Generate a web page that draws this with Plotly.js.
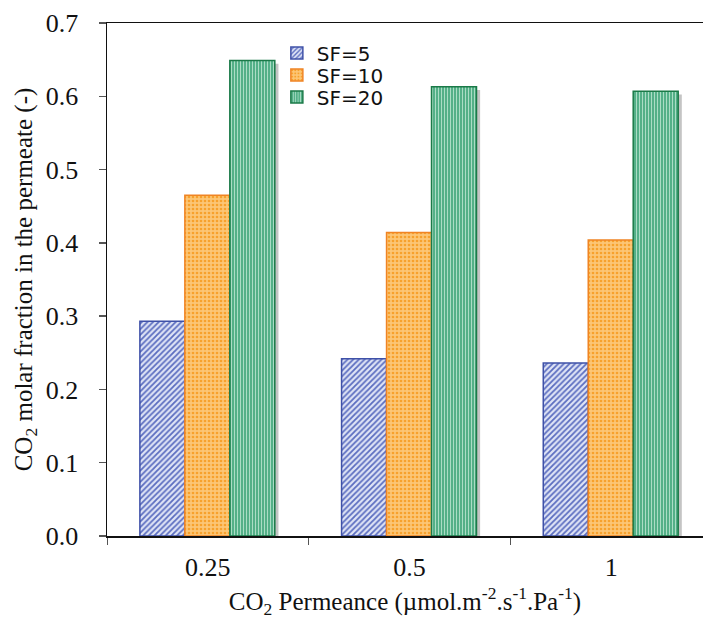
<!DOCTYPE html>
<html>
<head>
<meta charset="utf-8">
<script src="https://cdn.plot.ly/plotly-3.0.1.min.js"></script>
<style>html,body{margin:0;padding:0;background:#fff;}#chart{width:703px;height:619px;}</style>
</head>
<body>
<div id="chart"></div>
<script>
const categories = ['0.25', '0.5', '1'];
const seriesNames = ['SF=5', 'SF=10', 'SF=20'];
const sf5 = [0.293, 0.242, 0.236];
const sf10 = [0.465, 0.414, 0.404];
const sf20 = [0.649, 0.613, 0.607];
const yTicks = [0, 0.1, 0.2, 0.3, 0.4, 0.5, 0.6, 0.7];

const values = [sf5, sf10, sf20];
const barW = 0.223;
const offsets = [-0.337, -0.114, 0.109];
const legendIds = ['legend', 'legend2', 'legend3'];
const styles = [
  {line: '#3f51a8', pat: {shape: '/', bgcolor: '#dfe4f6', fgcolor: '#5b6dc0', size: 4, solidity: 0.45}},
  {line: '#f08424', pat: {shape: '.', bgcolor: '#fcc676', fgcolor: '#f7a12c', size: 4, solidity: 0.35}},
  {line: '#1b7a48', pat: {shape: '|', bgcolor: '#54b088', fgcolor: '#b4e2cc', size: 3, solidity: 0.3}}
];

const traces = [];
values.forEach((v, i) => {
  traces.push({
    type: 'bar', x: categories, y: v.map(d => d - 0.0045),
    width: barW, offset: offsets[i] + 0.018,
    marker: {color: '#c4c4c4', line: {width: 0}},
    showlegend: false, hoverinfo: 'skip'
  });
});
values.forEach((v, i) => {
  traces.push({
    type: 'bar', name: seriesNames[i], x: categories, y: v,
    width: barW, offset: offsets[i], legend: legendIds[i],
    marker: {color: styles[i].pat.bgcolor, line: {color: styles[i].line, width: 1.5}, pattern: styles[i].pat}
  });
});

const legendFont = {family: 'DejaVu Sans, Verdana, sans-serif', size: 20, color: '#111'};
const legendY = [0.9415, 0.8986, 0.8558];
function mkLegend(y) {
  return {x: 0.285, y: y, xanchor: 'left', yanchor: 'middle',
    bgcolor: 'rgba(0,0,0,0)', itemwidth: 30, font: legendFont};
}

const layout = {
  width: 703, height: 619,
  margin: {l: 107, r: 0, t: 23, b: 83},
  paper_bgcolor: '#fff', plot_bgcolor: '#fff',
  barmode: 'overlay',
  font: {family: 'Liberation Serif, Times New Roman, serif', color: '#111'},
  xaxis: {
    type: 'category', range: [-0.5, 2.455],
    showline: true, linecolor: '#111', linewidth: 1.5, mirror: true,
    ticks: 'outside', tickson: 'boundaries', ticklen: 7, tickcolor: '#555', tickwidth: 1,
    ticklabelstandoff: 7,
    showgrid: false, zeroline: false,
    tickfont: {family: 'Liberation Serif, serif', size: 26, color: '#111'},
    title: {text: 'CO<sub>2</sub> Permeance (µmol.m<sup>-2</sup>.s<sup>-1</sup>.Pa<sup>-1</sup>)',
      font: {family: 'Liberation Serif, serif', size: 25, color: '#111'}, standoff: 19}
  },
  yaxis: {
    range: [0, 0.7], tickvals: yTicks, tickformat: '.1f',
    showline: true, linecolor: '#111', linewidth: 1.5,
    ticks: 'outside', ticklen: 7, tickcolor: '#555', tickwidth: 1.5,
    ticklabelstandoff: 15,
    showgrid: false, zeroline: false,
    tickfont: {family: 'Liberation Serif, serif', size: 26, color: '#111'},
    title: {text: 'CO<sub>2</sub> molar fraction in the permeate (-)',
      font: {family: 'Liberation Serif, serif', size: 25, color: '#111'}, standoff: 6}
  },
  legend: mkLegend(legendY[0]),
  legend2: mkLegend(legendY[1]),
  legend3: mkLegend(legendY[2]),
  showlegend: true
};

Plotly.newPlot('chart', traces, layout, {displayModeBar: false, staticPlot: true});
</script>
</body>
</html>
